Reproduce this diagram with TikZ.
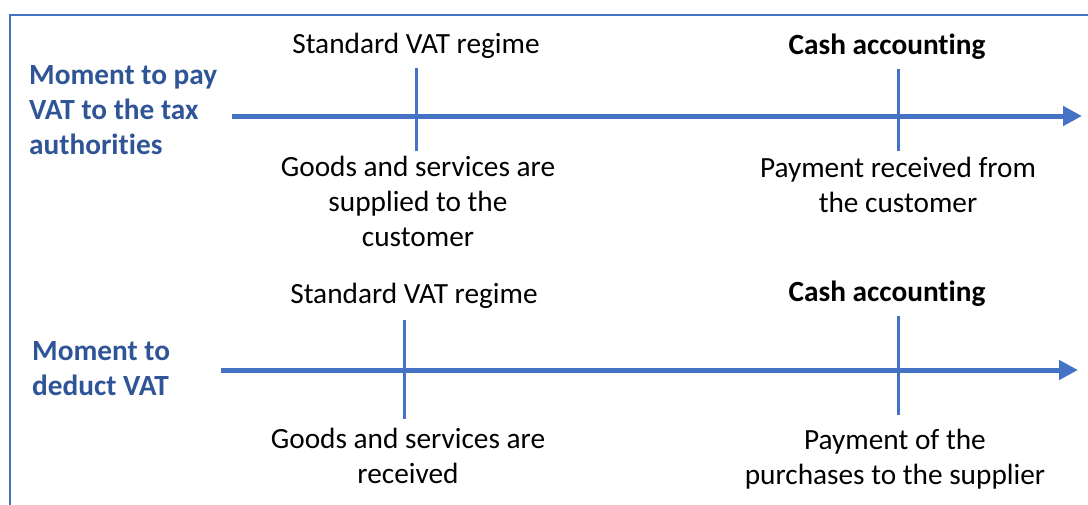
\documentclass[tikz,border=0pt]{standalone}
\usepackage{fontspec}
\setmainfont{Carlito}[RawFeature=-liga]
\usetikzlibrary{arrows.meta}
\definecolor{lineblue}{HTML}{4472C4}
\definecolor{textblue}{HTML}{2F5597}
\begin{document}
\begin{tikzpicture}[x=1pt,y=-1pt,
  every node/.style={inner sep=0pt,font=\fontsize{29.3}{35}\selectfont},
  lbl/.style={align=center,anchor=base},
  boldlbl/.style={lbl,font=\fontsize{29.3}{35}\selectfont\bfseries},
  side/.style={align=left,anchor=base west,text=textblue,font=\fontsize{29.3}{35}\selectfont\bfseries},
  axis/.style={draw=lineblue,line width=5pt,-{Triangle[length=19pt,width=19pt]}},
  tick/.style={draw=lineblue,line width=3pt},
  frame/.style={draw=lineblue,line width=2pt}]
\useasboundingbox (0,0) rectangle (1088,504);
\clip (0,0) rectangle (1088,504);
\draw[frame] (9.5,15) rectangle (1120,540);
% row 1
\coordinate (a1s) at (232,116);
\coordinate (a1e) at (1082,116);
\draw[axis] (a1s) -- (a1e);
\coordinate (t1a) at (416,68); \coordinate (t1b) at (416,151);
\coordinate (t2a) at (898,69); \coordinate (t2b) at (898,151);
\draw[tick] (t1a) -- (t1b);
\draw[tick] (t2a) -- (t2b);
\node[side] (m1) at (29,154.5) {Moment to pay\\VAT to the tax\\authorities};
\node[lbl] (s1) at (416,53.5) {Standard VAT regime};
\node[boldlbl] (c1) at (887,54.5) {Cash accounting};
\node[lbl] (g1) at (418,246.5) {Goods and services are\\supplied to the\\customer};
\node[lbl] (p1) at (898,212.5) {Payment received from\\the customer};
% row 2
\coordinate (a2s) at (221,370);
\coordinate (a2e) at (1078,370);
\draw[axis] (a2s) -- (a2e);
\coordinate (t3a) at (404,320); \coordinate (t3b) at (404,419);
\coordinate (t4a) at (898,316); \coordinate (t4b) at (898,415);
\draw[tick] (t3a) -- (t3b);
\draw[tick] (t4a) -- (t4b);
\node[side] (m2) at (32,395.5) {Moment to\\deduct VAT};
\node[lbl] (s2) at (414,303.5) {Standard VAT regime};
\node[boldlbl] (c2) at (887,301.5) {Cash accounting};
\node[lbl] (g2) at (408,483.5) {Goods and services are\\received};
\node[lbl] (p2) at (895,484.5) {Payment of the\\purchases to the supplier};
\end{tikzpicture}
\end{document}
